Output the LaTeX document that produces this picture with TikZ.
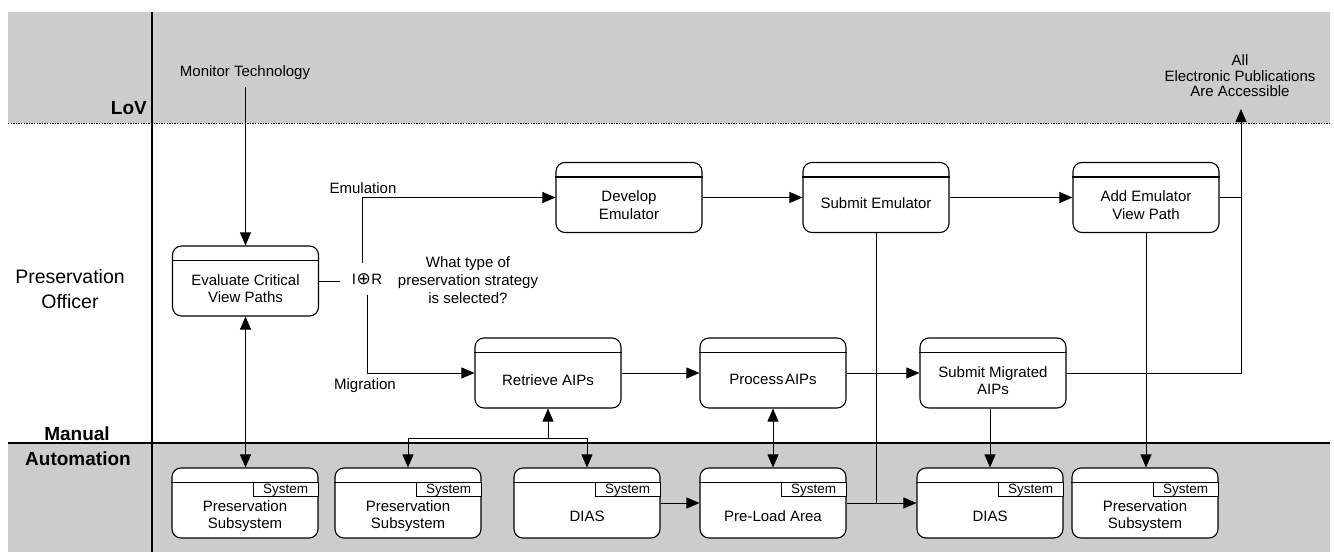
\documentclass[tikz,border=0pt]{standalone}
\usepackage{fontspec}
\setmainfont{Liberation Sans}
\newfontfamily\symfont{DejaVu Sans}
\usetikzlibrary{arrows.meta}

\definecolor{lanegray}{RGB}{204,204,204}

\tikzset{
  flow/.style={line width=0.9pt},
  arr/.style={flow, -{Triangle[length=13pt,width=11pt]}},
  darr/.style={flow, {Triangle[length=13pt,width=11pt]}-{Triangle[length=13pt,width=11pt]}},
  box/.style={draw, line width=1.1pt, fill=white, rounded corners=9pt,
    minimum width=146pt, minimum height=70pt, inner sep=0pt},
  boxtext/.style={align=center, font=\fontsize{15}{17.5}\selectfont, inner sep=1pt},
  systab/.style={draw, line width=1pt, fill=white, anchor=north east,
    minimum width=65pt, minimum height=14pt, inner sep=0pt,
    font=\fontsize{13.5}{13.5}\selectfont},
  lbl/.style={font=\fontsize{15}{18}\selectfont, align=center, inner sep=1pt},
  lane/.style={font=\bfseries\fontsize{19}{19}\selectfont, inner sep=0pt}
}

% process box: name, x, y, text
\newcommand\procbox[4]{%
  \node[box] (#1) at (#2,#3) {};
  \draw[line width=1.1pt] ([yshift=-15pt]#1.north west) -- ([yshift=-15pt]#1.north east);
  \node[boxtext] (#1-t) at ([yshift=-7.5pt]#1.center) {#4};}

% system box with a "System" tab: name, x, y, text
\newcommand\sysbox[4]{%
  \node[box] (#1) at (#2,#3) {};
  \draw[line width=1.1pt] ([yshift=-15pt]#1.north west) -- ([yshift=-15pt]#1.north east);
  \node[systab] (#1-s) at ([yshift=-15pt]#1.north east) {System};
  \node[boxtext] (#1-t) at ([yshift=-13pt]#1.center) {#4};}

\begin{document}
\begin{tikzpicture}[x=1pt, y=-1pt]
\useasboundingbox (0,0) rectangle (1334,552);

% swim lanes
\fill[lanegray] (8,12) rectangle (1330,123);
\fill[lanegray] (8,443) rectangle (1330,552);
\draw[line width=1pt, dash pattern=on 1.3pt off 1.3pt] (8,123) -- (1330,123);
\draw[line width=2.2pt] (8,443) -- (1330,443);
\draw[line width=1.4pt] (152,12) -- (152,552);

\node[lane, anchor=east] (lov) at (147,108) {LoV};
\node[lane] (man) at (77,434) {Manual};
\node[lane] (aut) at (78,459) {Automation};
\node[font=\fontsize{19.5}{25}\selectfont, align=center, inner sep=0pt] (po) at (70,289) {Preservation\\Officer};

% labels
\node[lbl] (mon) at (245,73) {Monitor Technology};
\node[lbl] (emu) at (363,188) {Emulation};
\node[lbl] (mig) at (365,386) {Migration};
\node[lbl] (q) at (468,280) {What type of\\preservation strategy\\is selected?};
\node[lbl, font=\fontsize{15}{15.5}\selectfont] (all) at (1240,76) {All\\Electronic Publications\\Are Accessible};
\node[font=\fontsize{15}{15}\selectfont, inner xsep=12pt, inner ysep=10pt] (ior) at (367,279)
  {I\kern0.5pt\raisebox{-0.3pt}{\symfont\fontsize{17}{17}\selectfont ⊕}\kern0.5pt R};

% process boxes
\procbox{eval}{245.5}{281}{Evaluate Critical\\View Paths}
\procbox{dev}{629}{197.5}{Develop\\Emulator}
\procbox{subE}{876}{197.5}{\raisebox{3pt}{Submit Emulator}}
\procbox{addE}{1146}{197.5}{Add Emulator\\View Path}
\procbox{retr}{548}{373}{Retrieve AIPs}
\procbox{proc}{773}{373}{\raisebox{3pt}{Process\kern1.5pt AIPs}}
\procbox{subM}{993}{373}{Submit Migrated\\AIPs}

% system boxes
\sysbox{ps1}{245}{503}{Preservation\\Subsystem}
\sysbox{ps2}{408}{503}{Preservation\\Subsystem}
\sysbox{dias1}{587}{503}{DIAS}
\sysbox{pla}{773}{503}{Pre-Load Area}
\sysbox{dias2}{990}{503}{DIAS}
\sysbox{ps3}{1145}{503}{Preservation\\Subsystem}

% junction points
\coordinate (goal) at (1241,109);
\coordinate (fork) at (548,438);

% connectors
\draw[arr] ([yshift=-6pt]eval.north |- mon.south) -- (eval.north);
\draw[darr] (eval.south) -- (eval.south |- ps1.north);
\draw[flow] (eval.east) -- (eval.east -| ior.west);
\draw[arr] ([xshift=-5pt]ior.north) |- (dev.west);
\draw[arr] (ior.south) |- (retr.west);
\draw[arr] (dev.east) -- (subE.west);
\draw[arr] (subE.east) -- (addE.west);
\draw[flow] (addE.east) -- (addE.east -| goal);
\draw[arr] (subM.east) -| (goal);
\draw[arr] (retr.east) -- (proc.west);
\draw[arr] (proc.east) -- (subM.west);
\draw[flow] (subE.south) -- (subE.south |- pla.east);
\draw[arr] (pla.east) -- (dias2.west);
\draw[arr] (dias1.east) -- (pla.west);
\draw[darr] (proc.south) -- (proc.south |- pla.north);
\draw[arr] (fork) -- (retr.south);
\draw[arr] (fork) -| (ps2.north);
\draw[arr] (fork) -| (dias1.north);
\draw[arr] (subM.south -| dias2.north) -- (dias2.north);
\draw[arr] (addE.south) -- (addE.south |- ps3.north);
\end{tikzpicture}
\end{document}
